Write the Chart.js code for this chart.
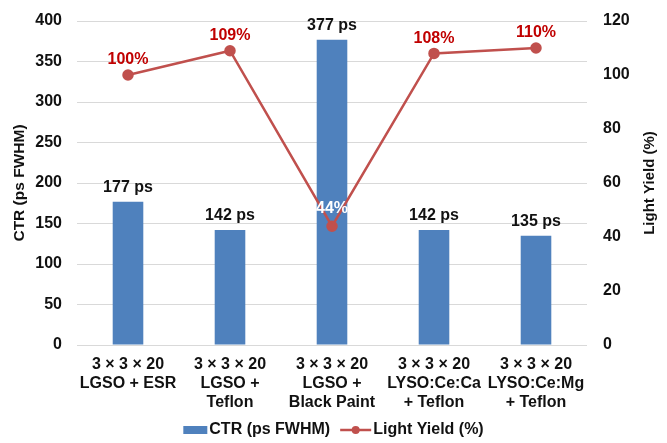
<!DOCTYPE html>
<html>
<head>
<meta charset="utf-8">
<script src="https://cdn.jsdelivr.net/npm/chart.js@4/dist/chart.umd.min.js"></script>
<style>
  html, body { margin: 0; padding: 0; background: #fff; }
  #wrap { width: 667px; height: 443px; }
</style>
</head>
<body>
<div id="wrap"><canvas id="chart"></canvas></div>
<script>
// Crystal / wrapping configurations
const categories = [
  ["3 × 3 × 20", "LGSO + ESR"],
  ["3 × 3 × 20", "LGSO +", "Teflon"],
  ["3 × 3 × 20", "LGSO +", "Black Paint"],
  ["3 × 3 × 20", "LYSO:Ce:Ca", "+ Teflon"],
  ["3 × 3 × 20", "LYSO:Ce:Mg", "+ Teflon"]
];
// Coincidence time resolution, ps FWHM
const ctrValues = [177, 142, 377, 142, 135];
// Relative light yield, %
const lightYield = [100, 109, 44, 108, 110];
// Axis tick ranges
const ctrTicks = { min: 0, max: 400, step: 50 };
const lyTicks = { min: 0, max: 120, step: 20 };

const BAR_COLOR = '#4F81BD';
const LINE_COLOR = '#C0504D';
const LABEL_RED = '#C00000';
const TEXT = '#111111';
const FONT = '"Liberation Sans", Arial, sans-serif';

// Value labels above bars and line points
const valueLabels = {
  id: 'valueLabels',
  afterDatasetsDraw(chart) {
    const ctx = chart.ctx;
    ctx.save();
    ctx.font = 'bold 16px ' + FONT;
    ctx.textAlign = 'center';
    ctx.textBaseline = 'middle';
    const bars = chart.getDatasetMeta(0);
    bars.data.forEach((el, i) => {
      ctx.fillStyle = TEXT;
      ctx.fillText(ctrValues[i] + ' ps', el.x, el.y - 14);
    });
    const pts = chart.getDatasetMeta(1);
    pts.data.forEach((el, i) => {
      const insideBar = el.y > bars.data[i].y;
      ctx.fillStyle = insideBar ? '#ffffff' : LABEL_RED;
      ctx.fillText(lightYield[i] + '%', el.x, el.y - (insideBar ? 18 : 15));
    });
    ctx.restore();
  }
};

// Secondary axis title, reading bottom-to-top like the primary one
const rightTitle = {
  id: 'rightTitle',
  afterDraw(chart) {
    const ctx = chart.ctx;
    const area = chart.chartArea;
    ctx.save();
    ctx.font = 'bold 15px ' + FONT;
    ctx.fillStyle = TEXT;
    ctx.textAlign = 'center';
    ctx.textBaseline = 'middle';
    ctx.translate(chart.width - 17, (area.top + area.bottom) / 2);
    ctx.rotate(-Math.PI / 2);
    ctx.fillText(chart.data.datasets[1].label, 0, 0);
    ctx.restore();
  }
};

// Legend centred under the axis labels
const bottomLegend = {
  id: 'bottomLegend',
  afterDraw(chart) {
    const ctx = chart.ctx;
    const ds = chart.data.datasets;
    ctx.save();
    ctx.font = 'bold 16px ' + FONT;
    ctx.textBaseline = 'middle';
    const y = 430;
    const w1 = ctx.measureText(ds[0].label).width;
    const w2 = ctx.measureText(ds[1].label).width;
    const box = 24, line = 31, gap = 2, space = 10;
    const total = box + gap + w1 + space + line + gap + w2;
    let x = chart.width / 2 - total / 2;
    ctx.fillStyle = ds[0].backgroundColor;
    ctx.fillRect(x, y - 4, box, 8);
    x += box + gap;
    ctx.fillStyle = TEXT;
    ctx.textAlign = 'left';
    ctx.fillText(ds[0].label, x, y);
    x += w1 + space;
    ctx.strokeStyle = ds[1].borderColor;
    ctx.lineWidth = 2.5;
    ctx.beginPath();
    ctx.moveTo(x, y);
    ctx.lineTo(x + line, y);
    ctx.stroke();
    ctx.fillStyle = ds[1].borderColor;
    ctx.beginPath();
    ctx.arc(x + line / 2, y, 4, 0, Math.PI * 2);
    ctx.fill();
    x += line + gap;
    ctx.fillStyle = TEXT;
    ctx.fillText(ds[1].label, x, y);
    ctx.restore();
  }
};

// Fixed axis width; vertical label overhang is covered by the layout padding
function fixWidth(w) {
  return function (scale) {
    scale.width = w;
    scale.paddingTop = 0;
    scale.paddingBottom = 0;
  };
}

new Chart(document.getElementById('chart'), {
  data: {
    labels: categories,
    datasets: [
      {
        type: 'bar',
        label: 'CTR (ps FWHM)',
        data: ctrValues,
        backgroundColor: BAR_COLOR,
        yAxisID: 'y',
        barPercentage: 0.3,
        categoryPercentage: 1,
        order: 2
      },
      {
        type: 'line',
        label: 'Light Yield (%)',
        data: lightYield,
        borderColor: LINE_COLOR,
        backgroundColor: LINE_COLOR,
        borderWidth: 2.5,
        pointRadius: 4.5,
        pointBackgroundColor: LINE_COLOR,
        pointBorderColor: LINE_COLOR,
        tension: 0,
        yAxisID: 'y1',
        order: 1
      }
    ]
  },
  options: {
    responsive: true,
    maintainAspectRatio: false,
    animation: false,
    layout: { padding: { top: 21, bottom: 0, left: 0, right: 0 } },
    plugins: {
      legend: { display: false },
      tooltip: { enabled: false }
    },
    scales: {
      x: {
        grid: { display: false, drawTicks: false },
        border: { display: false },
        ticks: {
          color: TEXT,
          font: { family: FONT, size: 16, weight: 'bold', lineHeight: 1.2 },
          padding: 10,
          maxRotation: 0,
          minRotation: 0,
          autoSkip: false
        },
        afterFit(scale) { scale.height = 98; }
      },
      y: {
        position: 'left',
        min: ctrTicks.min,
        max: ctrTicks.max,
        ticks: {
          stepSize: ctrTicks.step,
          color: TEXT,
          padding: 15,
          font: { family: FONT, size: 16, weight: 'bold' }
        },
        grid: { color: '#d9d9d9', lineWidth: 1, drawTicks: false },
        border: { display: false },
        title: {
          display: true,
          text: 'CTR (ps FWHM)',
          color: TEXT,
          font: { family: FONT, size: 15.5, weight: 'bold', lineHeight: 1.2 },
          padding: { top: 10, bottom: 0 }
        },
        afterFit: fixWidth(77)
      },
      y1: {
        position: 'right',
        min: lyTicks.min,
        max: lyTicks.max,
        ticks: {
          stepSize: lyTicks.step,
          color: TEXT,
          padding: 16,
          font: { family: FONT, size: 16, weight: 'bold' }
        },
        grid: { display: false, drawTicks: false },
        border: { display: false },
        afterFit: fixWidth(80)
      }
    }
  },
  plugins: [valueLabels, rightTitle, bottomLegend]
});
</script>
</body>
</html>
